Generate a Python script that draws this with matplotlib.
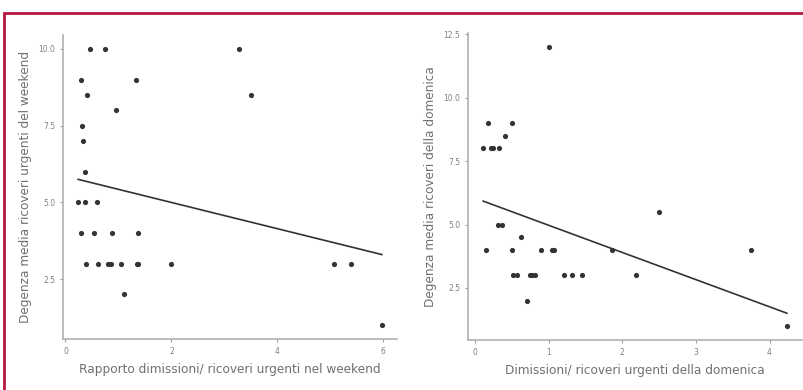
import numpy as np
import matplotlib
matplotlib.use("Agg")
import matplotlib.pyplot as plt
from matplotlib.patches import Rectangle

W, H = 804, 390

# left panel: weekend
weekend_x = [0.46, 0.74, 3.27, 0.30, 1.33, 0.41, 3.50, 0.95, 0.31, 0.33, 0.36,
             0.24, 0.36, 0.59, 0.29, 0.54, 0.88, 1.37, 0.39, 0.61, 0.81, 0.85,
             1.05, 1.35, 1.37, 1.99, 5.07, 5.39, 1.11, 5.97]
weekend_y = [10, 10, 10, 9, 9, 8.5, 8.5, 8, 7.5, 7, 6,
             5, 5, 5, 4, 4, 4, 4, 3, 3, 3, 3,
             3, 3, 3, 3, 3, 3, 2, 1]

# right panel: sunday
sunday_x = [1.00, 0.17, 0.505, 0.405, 0.11, 0.22, 0.245, 0.33, 0.31, 0.37,
            2.50, 0.63, 0.145, 0.505, 0.89, 1.05, 1.07, 1.865, 3.75,
            0.52, 0.565, 0.74, 0.78, 0.81, 1.21, 1.32, 1.45, 2.19, 0.71, 4.235]
sunday_y = [12, 9, 9, 8.5, 8, 8, 8, 8, 5, 5,
            5.5, 4.5, 4, 4, 4, 4, 4, 4, 4,
            3, 3, 3, 3, 3, 3, 3, 3, 3, 2, 1]

left_xticks = [0, 2, 4, 6]
left_yticks = [2.5, 5.0, 7.5, 10.0]
right_xticks = [0, 1, 2, 3, 4]
right_yticks = [2.5, 5.0, 7.5, 10.0, 12.5]

fig = plt.figure(figsize=(W / 100, H / 100), dpi=100)

# crimson frame around the figure
fig.patches.append(Rectangle((4 / W, -0.05), 1.1, (H - 13) / H + 0.05,
                             transform=fig.transFigure, fill=False,
                             edgecolor="#b5173f", linewidth=2))


def panel(rect, xs, ys, xticks, yticks, xlabel, ylabel):
    l, t, r, b = rect
    ax = fig.add_axes([l / W, (H - b) / H, (r - l) / W, (b - t) / H])
    xs, ys = np.array(xs), np.array(ys)
    ax.scatter(xs, ys, s=14, color="#333333", linewidths=0, zorder=3)
    # linear fit across the observed x range
    k, c = np.polyfit(xs, ys, 1)
    fx = np.array([xs.min(), xs.max()])
    ax.plot(fx, k * fx + c, color="#333333", linewidth=1.2)
    ax.set_xticks(xticks)
    ax.set_yticks(yticks)
    ax.set_xticklabels([str(v) for v in xticks])
    ax.set_yticklabels(["%.1f" % v for v in yticks])
    for s in ["top", "right"]:
        ax.spines[s].set_visible(False)
    for s in ["left", "bottom"]:
        ax.spines[s].set_color("#b0b0b0")
        ax.spines[s].set_linewidth(1.2)
    ax.tick_params(colors="#999999", labelcolor="#808080", labelsize=5.5,
                   length=2.5, width=0.8, pad=3)
    ax.set_xlabel(xlabel, fontsize=8.7, color="#707070", labelpad=5)
    ax.set_ylabel(ylabel, fontsize=8.7, color="#707070", labelpad=5)
    return ax


panel((63, 35, 397, 339), weekend_x, weekend_y, left_xticks, left_yticks,
      "Rapporto dimissioni/ ricoveri urgenti nel weekend",
      "Degenza media ricoveri urgenti del weekend")
panel((468, 33, 802, 340), sunday_x, sunday_y, right_xticks, right_yticks,
      "Dimissioni/ ricoveri urgenti della domenica",
      "Degenza media ricoveri della domenica")

fig.savefig("out.png", dpi=100)
